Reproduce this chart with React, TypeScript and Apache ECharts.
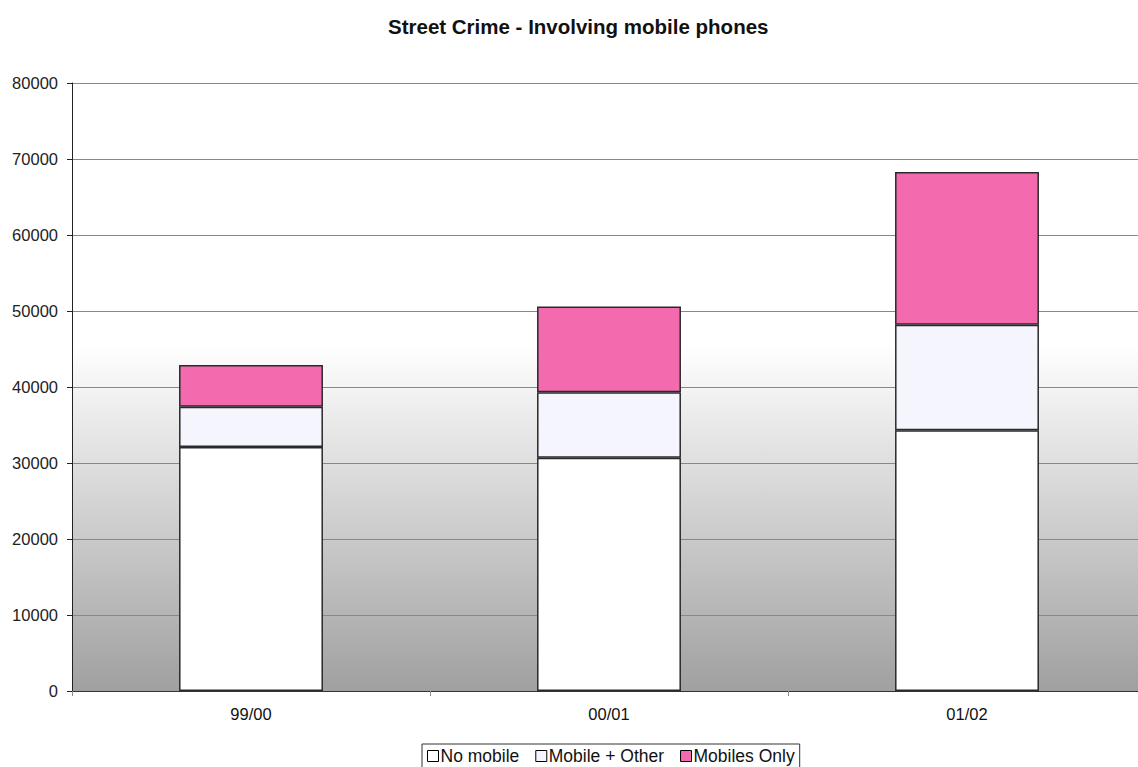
import React, { useEffect, useRef } from "react";
import * as echarts from "echarts";

const categories = ["99/00", "00/01", "01/02"];
const noMobile = [32100, 30700, 34300];
const mobilePlusOther = [5300, 8600, 13900];
const mobilesOnly = [5500, 11300, 20100];
const yTicks = { min: 0, max: 80000, interval: 10000 };

export default function App() {
  const ref = useRef<HTMLDivElement>(null);
  useEffect(() => {
    const chart = echarts.init(ref.current!, null, { renderer: "svg" });
    const font = "'Liberation Sans', Arial, sans-serif";
    const barStyle = (color: string) => ({ color, borderColor: "#2a2a2a", borderWidth: 1.5 });
    chart.setOption({
      animation: false,
      textStyle: { fontFamily: font },
      title: {
        text: "Street Crime - Involving mobile phones",
        left: 383,
        top: 11,
        textStyle: { fontSize: 20.5, fontWeight: "bold", color: "#111", fontFamily: font },
      },
      grid: {
        left: 72,
        right: 0,
        top: 83,
        bottom: 76,
        show: true,
        borderWidth: 0,
        backgroundColor: {
          type: "linear",
          x: 0, y: 0, x2: 0, y2: 1,
          colorStops: [
            { offset: 0, color: "#ffffff" },
            { offset: 0.43, color: "#ffffff" },
            { offset: 1, color: "#a0a0a0" },
          ],
        },
      },
      legend: {
        top: 744,
        left: 422,
        itemWidth: 11,
        itemHeight: 11,
        itemGap: 16,
        icon: "rect",
        borderColor: "#333",
        borderWidth: 1,
        padding: [3, 5, 8, 5],
        textStyle: { fontSize: 17.5, color: "#111", fontFamily: font, padding: [0, 0, 0, -3] },
        data: [
          { name: "No mobile", itemStyle: { color: "#ffffff", borderColor: "#000", borderWidth: 1 } },
          { name: "Mobile + Other", itemStyle: { color: "#f5f5fd", borderColor: "#000", borderWidth: 1 } },
          { name: "Mobiles Only", itemStyle: { color: "#f46aae", borderColor: "#000", borderWidth: 1 } },
        ],
      },
      xAxis: {
        type: "category",
        data: categories,
        axisLine: { lineStyle: { color: "#333", width: 1 } },
        axisTick: { show: true, length: 5, lineStyle: { color: "#888" } },
        axisLabel: { fontSize: 16.5, color: "#111", margin: 14, fontFamily: font },
      },
      yAxis: {
        type: "value",
        min: yTicks.min,
        max: yTicks.max,
        interval: yTicks.interval,
        axisLine: { show: true, lineStyle: { color: "#222", width: 1 } },
        axisTick: { show: true, length: 5, lineStyle: { color: "#222" } },
        axisLabel: { fontSize: 16.5, color: "#222", margin: 14, fontFamily: font, formatter: (v: number) => String(v) },
        splitLine: { lineStyle: { color: "#888", width: 1 } },
      },
      series: [
        { name: "No mobile", type: "bar", stack: "s", data: noMobile, barWidth: "40.2%", itemStyle: barStyle("#ffffff") },
        { name: "Mobile + Other", type: "bar", stack: "s", data: mobilePlusOther, itemStyle: barStyle("#f5f5fd") },
        { name: "Mobiles Only", type: "bar", stack: "s", data: mobilesOnly, itemStyle: barStyle("#f46aae") },
      ],
    });
    return () => chart.dispose();
  }, []);
  return (
    <div style={{ position: "absolute", left: 0, top: 0, width: 1138, height: 767, overflow: "hidden" }}>
      <div ref={ref} style={{ width: 1146, height: 767 }} />
    </div>
  );
}
